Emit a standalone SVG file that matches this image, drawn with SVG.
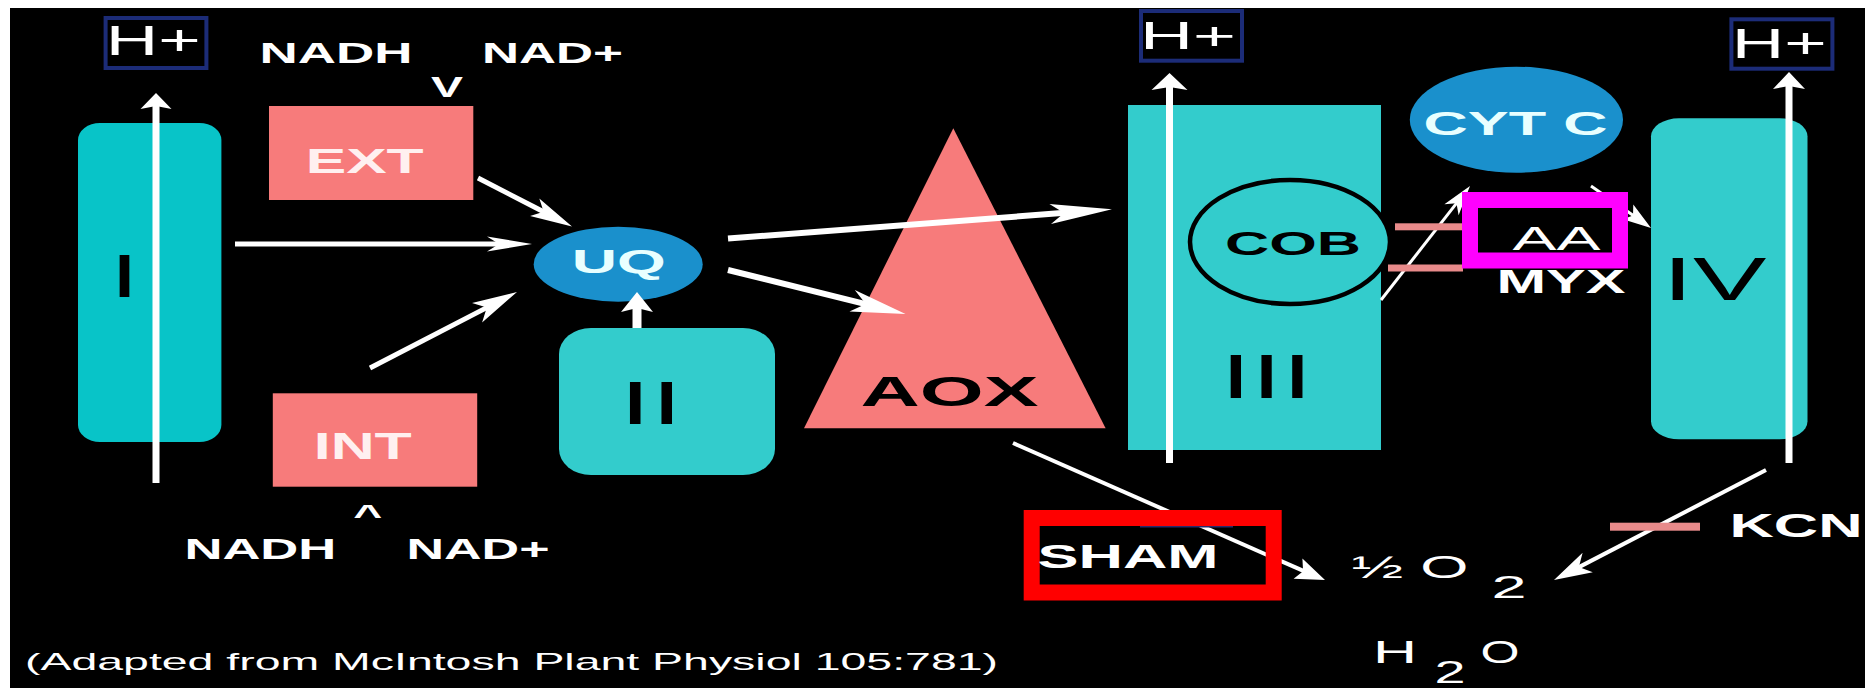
<svg xmlns="http://www.w3.org/2000/svg" width="1865" height="688" viewBox="0 0 1865 688">
<style>
text{font-family:"Liberation Sans",Arial,sans-serif;fill:#ffffff;text-anchor:middle}
.b{font-weight:700}
.k{fill:#000000}
.pk{fill:#fff0f0}
.cy{fill:#e8ffff}
.hbox{fill:none;stroke:#1c2c78;stroke-width:4}
.cyan{fill:#33cccc}
.salmon{fill:#f77b7b}
.blue{fill:#1a90cc}
.bar{fill:#e88a8a}
.ln{stroke:#ffffff;fill:none;stroke-linecap:butt}
.hd{fill:#ffffff}
</style>
<rect x="0" y="0" width="1865" height="688" fill="#ffffff"/>
<rect x="10" y="8" width="1855" height="680" fill="#000000"/>

<g id="complex-I">
<rect x="78" y="123" width="143.4" height="319" rx="22" ry="17" fill="#08c4c8"/>
<text x="124.5" y="297" font-size="61.5" class="k" textLength="29" lengthAdjust="spacingAndGlyphs">I</text>
</g>
<g id="hplus-1">
<rect class="hbox" x="105.6" y="18" width="100.8" height="50"/>
<text x="153.2" y="55" font-size="42" textLength="95" lengthAdjust="spacingAndGlyphs">H+</text>
</g>
<g id="ext-cofactors">
<text x="336" y="63" font-size="30" class="b" textLength="153" lengthAdjust="spacingAndGlyphs">NADH</text>
<text x="552.5" y="63" font-size="30" class="b" textLength="141" lengthAdjust="spacingAndGlyphs">NAD+</text>
<text x="447" y="96.7" font-size="30" class="b" textLength="32" lengthAdjust="spacingAndGlyphs">V</text>
</g>
<g id="ext">
<rect class="salmon" x="269" y="106" width="204.3" height="94"/>
<text x="364.7" y="173.3" font-size="35" class="b pk" textLength="118" lengthAdjust="spacingAndGlyphs">EXT</text>
</g>
<g id="int">
<rect class="salmon" x="272.8" y="393.3" width="204.4" height="93.4"/>
<text x="362.8" y="459.3" font-size="36" class="b pk" textLength="98" lengthAdjust="spacingAndGlyphs">INT</text>
</g>
<g id="int-cofactors">
<text x="367.8" y="524.5" font-size="30" class="b" textLength="29" lengthAdjust="spacingAndGlyphs">^</text>
<text x="260.4" y="559.3" font-size="30" class="b" textLength="152" lengthAdjust="spacingAndGlyphs">NADH</text>
<text x="478" y="559.3" font-size="30" class="b" textLength="143" lengthAdjust="spacingAndGlyphs">NAD+</text>
</g>
<g id="uq">
<ellipse class="blue" cx="618.2" cy="264.2" rx="84.5" ry="37.5"/>
<text x="618.8" y="273" font-size="33.5" class="b cy" textLength="94" lengthAdjust="spacingAndGlyphs">UQ</text>
</g>
<g id="complex-II">
<rect class="cyan" x="559" y="328" width="216" height="147" rx="32" ry="26"/>
<text x="651" y="424" font-size="61.5" class="k" textLength="63" lengthAdjust="spacingAndGlyphs">II</text>
</g>
<g id="aox">
<polygon class="salmon" points="953.3,128.3 804,428.3 1105.6,428.3"/>
<text x="949.5" y="406" font-size="42" class="b k" textLength="178" lengthAdjust="spacingAndGlyphs">AOX</text>
</g>
<g id="complex-III">
<rect class="cyan" x="1128" y="105" width="253" height="345"/>
<ellipse class="cyan" cx="1290" cy="242" rx="100" ry="62" stroke="#000000" stroke-width="4.5"/>
<text x="1293" y="255" font-size="33" class="b k" textLength="136" lengthAdjust="spacingAndGlyphs">COB</text>
<text x="1266.6" y="398.3" font-size="63" class="k" textLength="92" lengthAdjust="spacingAndGlyphs">III</text>
</g>
<g id="hplus-2">
<rect class="hbox" x="1141" y="11" width="101" height="49.7"/>
<text x="1188" y="49.3" font-size="38.5" textLength="96" lengthAdjust="spacingAndGlyphs">H+</text>
</g>
<g id="cyt-c">
<ellipse class="blue" cx="1516.4" cy="119.7" rx="106.6" ry="53"/>
<text x="1515.5" y="135" font-size="32.5" class="b cy" textLength="184" lengthAdjust="spacingAndGlyphs">CYT C</text>
</g>
<g id="complex-IV">
<rect class="cyan" x="1651" y="118.3" width="156.5" height="321" rx="28" ry="18"/>
<text x="1714.5" y="300" font-size="60.5" class="k" textLength="104" lengthAdjust="spacingAndGlyphs">IV</text>
</g>
<g id="hplus-3">
<rect class="hbox" x="1731.4" y="19.3" width="101" height="49.4"/>
<text x="1779.3" y="58.3" font-size="42" textLength="95" lengthAdjust="spacingAndGlyphs">H+</text>
</g>

<g id="connectors">
<line class="ln" x1="156" y1="483" x2="156" y2="105" stroke-width="7"/>
<polygon class="hd" points="156,93 171.5,109 156,106 140.5,109"/>
<line class="ln" x1="1169.5" y1="463" x2="1169.5" y2="86" stroke-width="7"/>
<polygon class="hd" points="1169.5,73 1187.5,90 1169.5,87 1151.5,90"/>
<line class="ln" x1="1789" y1="463" x2="1789" y2="85" stroke-width="7"/>
<polygon class="hd" points="1789,72 1805,89 1789,86 1773,89"/>
<line class="ln" x1="235" y1="244" x2="500" y2="244" stroke-width="5"/>
<polygon class="hd" points="532,244 487,251.5 499,244 487,236.5"/>
<line class="ln" x1="478" y1="178" x2="544.5" y2="212.3" stroke-width="5"/>
<polygon class="hd" points="572,226.5 530.1,216.1 543.6,211.8 539.3,198.4"/>
<line class="ln" x1="370" y1="368" x2="487.7" y2="307.1" stroke-width="5"/>
<polygon class="hd" points="517,292 482.1,322.4 486.8,307.6 472,302.9"/>
<line class="ln" x1="637" y1="328" x2="637" y2="307" stroke-width="9"/>
<polygon class="hd" points="637,292 653,312 637,308 621,312"/>
<line class="ln" x1="728" y1="238.5" x2="1065" y2="212.8" stroke-width="6"/>
<polygon class="hd" points="1112,209.3 1051,224 1064.1,212.9 1049.4,204"/>
<line class="ln" x1="728" y1="270" x2="866.7" y2="304.3" stroke-width="6"/>
<polygon class="hd" points="905.5,314 849.5,311.5 865.7,304.1 854.8,290.1"/>
<line class="ln" x1="1013" y1="443" x2="1304" y2="571.2" stroke-width="4"/>
<polygon class="hd" points="1325,580 1293.6,578.7 1303.1,571.3 1302.4,558.5"/>
<line class="ln" x1="1766" y1="470" x2="1578" y2="567.6" stroke-width="4"/>
<polygon class="hd" points="1554,580 1582.6,552.7 1578.9,567.1 1592.8,572.3"/>
<line class="ln" x1="1381" y1="300" x2="1457" y2="202.6" stroke-width="3"/>
<polygon class="hd" points="1470,186 1458.6,215.2 1456.5,203.3 1444.4,204.2"/>
<line class="ln" x1="1591" y1="186" x2="1634" y2="216.1" stroke-width="3"/>
<polygon class="hd" points="1651,228 1622.9,219.3 1633,215.4 1633.3,204.5"/>
</g>

<g id="inhibitor-bars">
<rect class="bar" x="1395" y="223.3" width="68" height="7"/>
<rect class="bar" x="1388" y="264.5" width="75" height="7"/>
<rect class="bar" x="1610" y="522.7" width="90" height="8"/>
<rect x="1140" y="524.5" width="93" height="3" fill="#2a2a6a"/>
</g>

<g id="aa">
<rect x="1470" y="200" width="150" height="60.5" fill="none" stroke="#ff00ff" stroke-width="16"/>
<text x="1556.5" y="250" font-size="32.5" textLength="88" lengthAdjust="spacingAndGlyphs">AA</text>
</g>
<g id="myx">
<text x="1561" y="293.3" font-size="32.5" class="b" textLength="129" lengthAdjust="spacingAndGlyphs">MYX</text>
</g>
<g id="sham">
<rect x="1031.7" y="518" width="242" height="74.5" fill="none" stroke="#ff0000" stroke-width="16"/>
<text x="1128" y="568.3" font-size="32.5" class="b" textLength="181" lengthAdjust="spacingAndGlyphs">SHAM</text>
</g>
<g id="kcn">
<text x="1796" y="536.7" font-size="32.5" class="b" textLength="133" lengthAdjust="spacingAndGlyphs">KCN</text>
</g>
<g id="o2">
<text x="1410" y="578" font-size="32" textLength="117" lengthAdjust="spacingAndGlyphs">½ O</text>
<text x="1509" y="598.3" font-size="32" textLength="35" lengthAdjust="spacingAndGlyphs">2</text>
</g>
<g id="h2o">
<text x="1395" y="663.3" font-size="32" textLength="44" lengthAdjust="spacingAndGlyphs">H</text>
<text x="1450" y="683.3" font-size="32" textLength="31" lengthAdjust="spacingAndGlyphs">2</text>
<text x="1500" y="663.3" font-size="32" textLength="39" lengthAdjust="spacingAndGlyphs">O</text>
</g>
<g id="caption">
<text x="25" y="670" font-size="24" style="text-anchor:start" textLength="973" lengthAdjust="spacingAndGlyphs">(Adapted from McIntosh Plant Physiol 105:781)</text>
</g>
</svg>
